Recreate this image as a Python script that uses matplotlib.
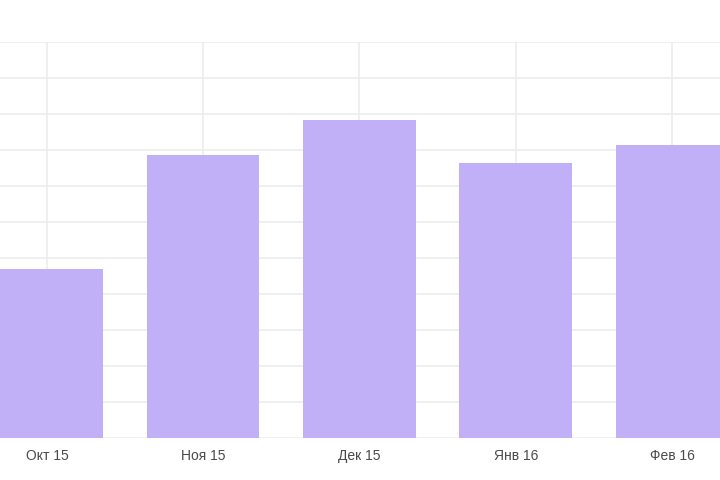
import numpy as np
import matplotlib
matplotlib.use('Agg')
import matplotlib.pyplot as plt

# месяцы и значения столбцов
months = ['Окт 15', 'Ноя 15', 'Дек 15', 'Янв 16', 'Фев 16']
values = [235, 393, 442, 382, 407]

# шаг сетки по оси y
grid_step = 50
y_max = 550

plt.rcParams['font.family'] = ['Liberation Sans', 'DejaVu Sans']

fig = plt.figure(figsize=(7.2, 4.8), dpi=100, facecolor='w')
ax = fig.add_axes([0, 0.0875, 1, 0.825])

x = np.arange(len(months))
ax.bar(x, values, width=0.72, color='#c1b0f8', zorder=2)

ax.set_xlim(-0.30, 4.307)
ax.set_ylim(0, y_max)

ax.set_xticks(x)
ax.set_xticklabels(months, fontsize=10, color='#4a4a4a')
ax.set_yticks(np.arange(0, y_max + 1, grid_step))
ax.tick_params(axis='y', left=False, labelleft=False)
ax.tick_params(axis='x', length=0, pad=8)

ax.grid(True, color='#ececec', linewidth=1.2, zorder=0)
ax.set_axisbelow(True)
for s in ax.spines.values():
    s.set_visible(False)

plt.savefig('out.png', dpi=100)
